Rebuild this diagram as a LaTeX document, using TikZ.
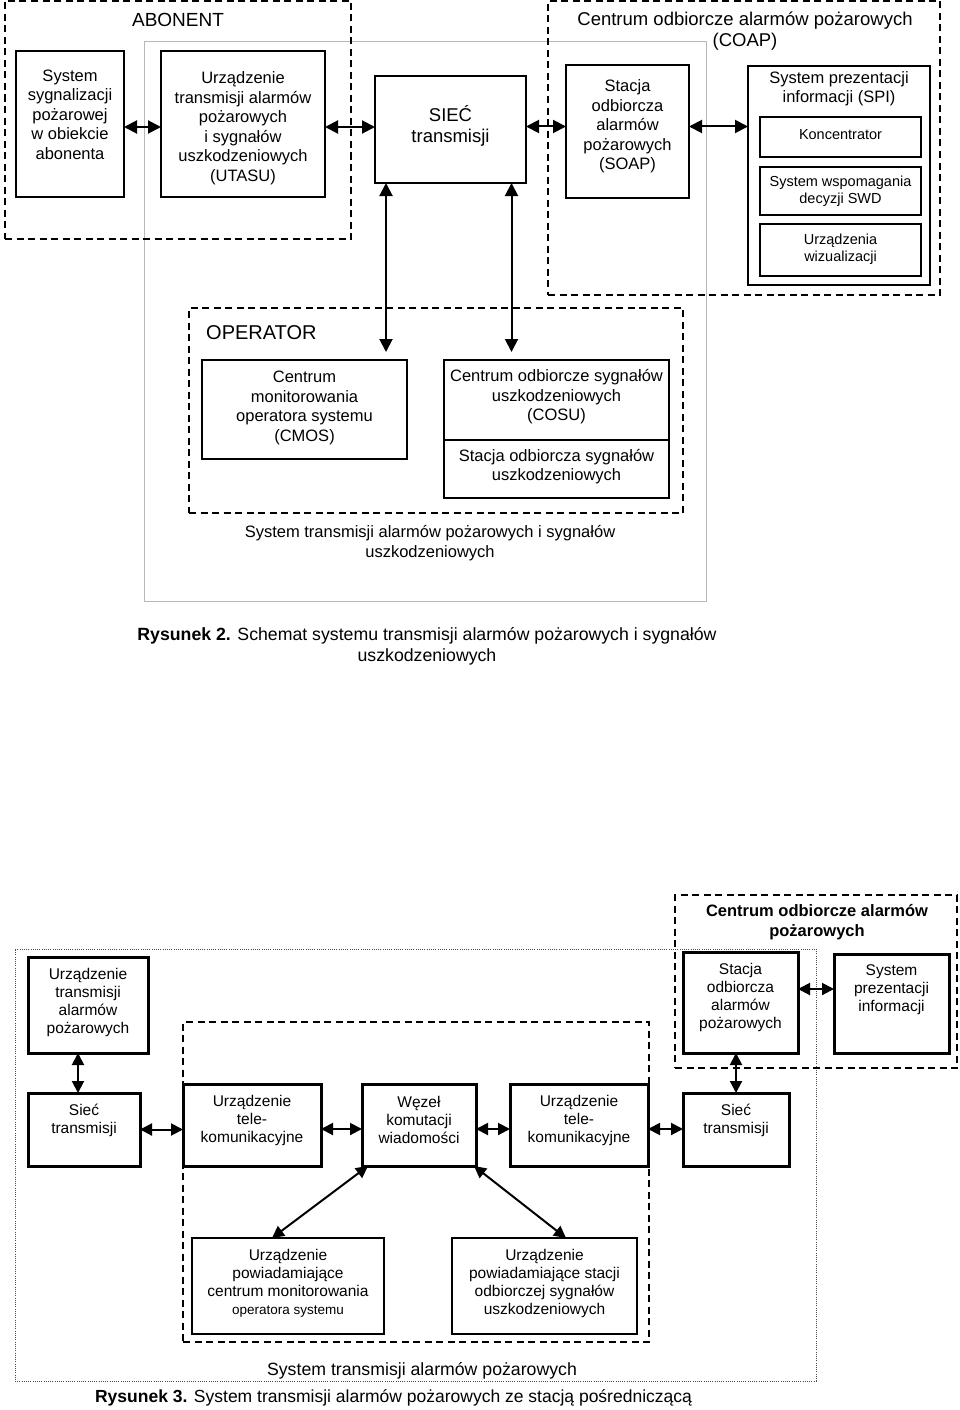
\documentclass[tikz,border=0pt]{standalone}
\usepackage{fontspec}
\setmainfont{Liberation Sans}
\usetikzlibrary{arrows.meta}
\newcommand\mkbox[6]{\node[#6, inner sep=0pt, outer sep=0pt, minimum width={(#4-#2)*1pt}, minimum height={(#5-#3)*1pt}] (#1) at ({(#2+#4)/2},{(#3+#5)/2}) {};}
\begin{document}
\begin{tikzpicture}[x=1pt,y=-1pt,
  tbox/.style={draw, line width=1.5pt},
  kbox/.style={draw, line width=3pt},
  nbox/.style={draw, line width=1.7pt},
  dbox/.style={draw, line width=1.8pt, dash pattern=on 7pt off 4.5pt},
  graybox/.style={draw=black!28, line width=1pt},
  dotbox/.style={draw=black!70, line width=0.9pt, dash pattern=on 1pt off 1.2pt},
  tA/.style={align=center, inner sep=0pt, font=\fontsize{16.5}{19.5}\selectfont},
  tS/.style={align=center, inner sep=0pt, font=\fontsize{14.5}{17}\selectfont},
  tL/.style={align=center, inner sep=0pt, font=\fontsize{18.5}{21}\selectfont},
  tB/.style={align=center, inner sep=0pt, font=\fontsize{15.5}{18}\selectfont},
  tC/.style={align=center, inner sep=0pt, font=\fontsize{17.7}{21}\selectfont},
  bi/.style={line width=2pt, {Triangle[length=13pt,width=13pt]}-{Triangle[length=13pt,width=13pt]}},
  bib/.style={line width=2pt, {Triangle[length=12pt,width=12pt]}-{Triangle[length=12pt,width=12pt]}}
]
\useasboundingbox (0,0) rectangle (960,1410);

% ---------------- Figure 2 ----------------
\mkbox{gray}{144}{42}{706}{601}{graybox}
\mkbox{abon}{5}{1}{351}{239}{dbox}
\node[tL, font=\fontsize{19}{22}\selectfont] (abont) at (178,20) {ABONENT};
\mkbox{coap}{548}{1}{940}{295}{dbox}
\node[tL] (coapt) at (745,31) {Centrum odbiorcze alarmów pożarowych\\(COAP)};

\mkbox{b1}{16}{51}{124}{197}{tbox}
\node[tA] (b1t) at (70,114.5) {System\\sygnalizacji\\pożarowej\\w obiekcie\\abonenta};
\mkbox{utasu}{161}{51}{325}{197}{tbox}
\node[tA] (utasut) at (243,128) {Urządzenie\\transmisji alarmów\\pożarowych\\i sygnałów\\uszkodzeniowych\\(UTASU)};
\mkbox{siec}{375}{76}{526}{183}{tbox}
\node[tL] (siect) at (450.5,125.5) {SIEĆ\\transmisji};
\mkbox{soap}{566}{65}{689}{198}{tbox}
\node[tA] (soapt) at (627.5,126.5) {Stacja\\odbiorcza\\alarmów\\pożarowych\\(SOAP)};
\mkbox{spi}{748}{66}{930}{285}{tbox}
\node[tA] (spit) at (839,88.5) {System prezentacji\\informacji (SPI)};
\mkbox{konc}{760}{117}{921}{157}{tbox}
\node[tS] (konct) at (840.5,135) {Koncentrator};
\mkbox{swd}{760}{167}{921}{215}{tbox}
\node[tS] (swdt) at (840.5,191.5) {System wspomagania\\decyzji SWD};
\mkbox{wiz}{760}{224}{921}{276}{tbox}
\node[tS] (wizt) at (840.5,249.5) {Urządzenia\\wizualizacji};

\mkbox{oper}{189}{308}{683}{513}{dbox}
\node[tL, font=\fontsize{20}{23}\selectfont, anchor=west] (opert) at (206,333) {OPERATOR};
\mkbox{cmos}{202}{360}{407}{459}{tbox}
\node[tA] (cmost) at (304.5,408) {Centrum\\monitorowania\\operatora systemu\\(CMOS)};
\mkbox{cosua}{444}{360}{669}{440}{tbox}
\node[tA] (cosuat) at (556.5,397) {Centrum odbiorcze sygnałów\\uszkodzeniowych\\(COSU)};
\mkbox{cosub}{444}{440}{669}{498}{tbox}
\node[tA] (cosubt) at (556.5,466.5) {Stacja odbiorcza sygnałów\\uszkodzeniowych};

\node[tA] (grayt) at (430,543) {System transmisji alarmów pożarowych i sygnałów\\uszkodzeniowych};
\node[tC] (cap2) at (427,646.5) {\textbf{Rysunek 2.} Schemat systemu transmisji alarmów pożarowych i sygnałów\\uszkodzeniowych};

\draw[bi] ([yshift=-3pt]b1.east) -- ([yshift=-3pt]b1.east -| utasu.west);
\draw[bi] ([yshift=-3pt]utasu.east) -- ([yshift=-3pt]utasu.east -| siec.west);
\draw[bi] ([yshift=3pt]siec.east) -- ([yshift=3pt]siec.east -| soap.west);
\draw[bi] ([yshift=5pt]soap.east) -- ([yshift=5pt]soap.east -| spi.west);
\draw[bi, shorten >=8pt] ([xshift=-64.5pt]siec.south) -- ([xshift=-64.5pt]siec.south |- cmos.north);
\draw[bi, shorten >=8pt] ([xshift=61pt]siec.south) -- ([xshift=61pt]siec.south |- cosua.north);

% ---------------- Figure 3 ----------------
\mkbox{outer}{15}{949}{816}{1381}{dotbox}
\mkbox{coapb}{675}{895}{957}{1068}{dbox}
\node[tA, font=\bfseries\fontsize{16.5}{20}\selectfont] (coapbt) at (817,922) {Centrum odbiorcze alarmów\\pożarowych};
\mkbox{inner}{183}{1022}{649}{1342}{dbox}

\mkbox{uta}{28}{957}{148}{1053}{kbox}
\node[tB] (utat) at (88,1002) {Urządzenie\\transmisji\\alarmów\\pożarowych};
\mkbox{stacja}{683}{952}{798}{1053}{kbox}
\node[tB] (stacjat) at (740.5,997) {Stacja\\odbiorcza\\alarmów\\pożarowych};
\mkbox{sprez}{834}{954}{949}{1053}{kbox}
\node[tB] (spreztt) at (891.5,990) {System\\prezentacji\\informacji};

\mkbox{siec1}{28}{1093}{140}{1166}{kbox}
\node[tB] (siec1t) at (84,1120) {Sieć\\transmisji};
\mkbox{ut1}{183}{1084}{321}{1166}{kbox}
\node[tB] (ut1t) at (252,1120) {Urządzenie\\tele-\\komunikacyjne};
\mkbox{wezel}{362}{1084}{476}{1166}{kbox}
\node[tB] (wezelt) at (419,1120) {Węzeł\\komutacji\\wiadomości};
\mkbox{ut2}{510}{1084}{648}{1166}{kbox}
\node[tB] (ut2t) at (579,1120) {Urządzenie\\tele-\\komunikacyjne};
\mkbox{siec2}{683}{1093}{789}{1166}{kbox}
\node[tB] (siec2t) at (736,1120) {Sieć\\transmisji};

\mkbox{pow1}{192}{1238}{384}{1334}{nbox}
\node[tB] (pow1t) at (288,1283) {Urządzenie\\powiadamiające\\centrum monitorowania\\{\fontsize{13.5}{16}\selectfont operatora systemu}};
\mkbox{pow2}{452}{1238}{637}{1334}{nbox}
\node[tB] (pow2t) at (544.5,1283) {Urządzenie\\powiadamiające stacji\\odbiorczej sygnałów\\uszkodzeniowych};

\node[tC] (outert) at (422,1371) {System transmisji alarmów pożarowych};
\node[tC, font=\fontsize{17.5}{21}\selectfont] (cap3) at (393.5,1398) {\textbf{Rysunek 3.} System transmisji alarmów pożarowych ze stacją pośredniczącą};

\draw[bib] ([xshift=-6pt]siec1.north |- uta.south) -- ([xshift=-6pt]siec1.north);
\draw[bib] (siec2.north |- stacja.south) -- (siec2.north);
\draw[bib] ([yshift=13.5pt]stacja.east) -- ([yshift=13.5pt]stacja.east -| sprez.west);
\draw[bib] (siec1.east) -- (siec1.east -| ut1.west);
\draw[bib] ([yshift=-4pt]ut1.east) -- ([yshift=-4pt]ut1.east -| wezel.west);
\draw[bib] ([yshift=-4pt]wezel.east) -- ([yshift=-4pt]wezel.east -| ut2.west);
\draw[bib] ([yshift=-4pt]ut2.east) -- ([yshift=-4pt]ut2.east -| siec2.west);
\draw[bib] ([xshift=-51pt]wezel.south) -- ([xshift=-16pt]pow1.north);
\draw[bib] ([xshift=55pt]wezel.south) -- ([xshift=21.5pt]pow2.north);
\end{tikzpicture}
\end{document}
